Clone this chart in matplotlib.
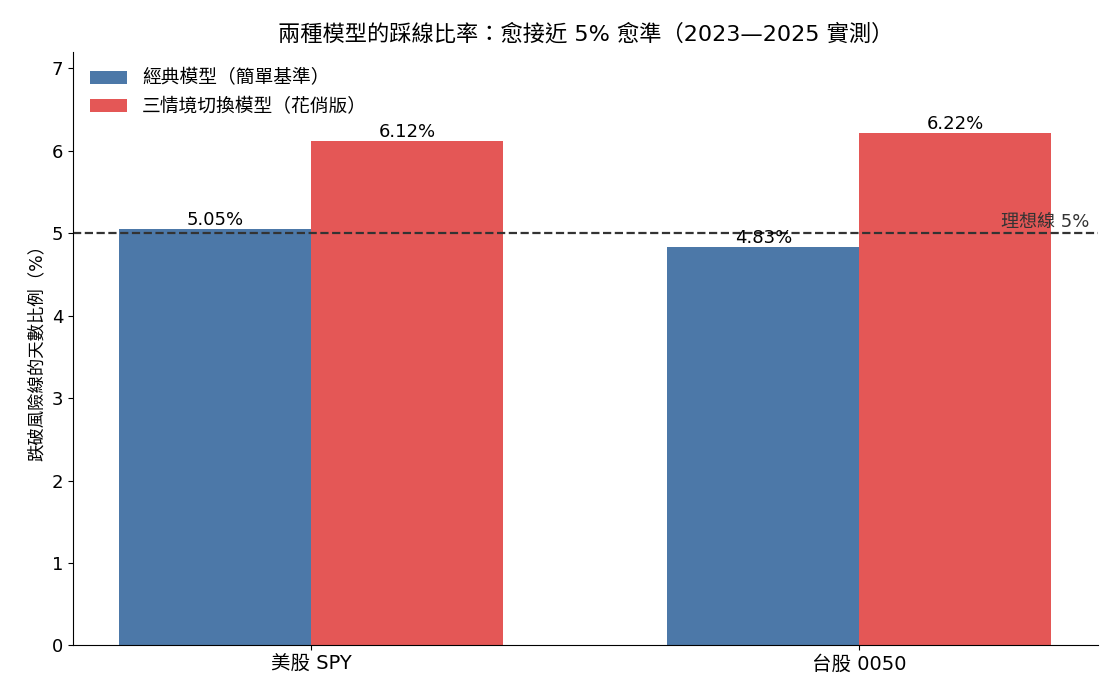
import numpy as np
import matplotlib.pyplot as plt

plt.rcParams['font.family'] = ['DejaVu Sans', 'Noto Sans CJK TC']

markets = ['美股 SPY', '台股 0050']
classic = [5.05, 4.83]
regime = [6.12, 6.22]
labels = ['經典模型（簡單基準）', '三情境切換模型（花俏版）']
target = 5

x = np.arange(len(markets))
w = 0.35

fig, ax = plt.subplots(figsize=(11.2, 7), dpi=100)
b1 = ax.bar(x - w / 2, classic, w, color='#4C78A8', label=labels[0])
b2 = ax.bar(x + w / 2, regime, w, color='#E45756', label=labels[1])

for bars in (b1, b2):
    for r in bars:
        ax.text(r.get_x() + r.get_width() / 2, r.get_height(), f'{r.get_height():.2f}%',
                ha='center', va='bottom', fontsize=13)

ax.axhline(target, color='#333333', linestyle='--', linewidth=1.6)
ax.text(1.42, target + 0.03, '理想線 5%', ha='right', va='bottom', fontsize=13, color='#333333')

ax.set_xticks(x)
ax.set_xticklabels(markets, fontsize=14)
ax.tick_params(axis='y', labelsize=13)
ax.set_ylim(0, 7.2)
ax.set_ylabel('跌破風險線的天數比例（%）', fontsize=12.5)
ax.set_title('兩種模型的踩線比率：愈接近 5% 愈準（2023—2025 實測）', fontsize=16, pad=8)
ax.spines['top'].set_visible(False)
ax.spines['right'].set_visible(False)
ax.legend(loc='upper left', frameon=False, fontsize=13.5)

fig.subplots_adjust(left=0.065, right=0.98, top=0.926, bottom=0.078)
fig.savefig('out.png')
